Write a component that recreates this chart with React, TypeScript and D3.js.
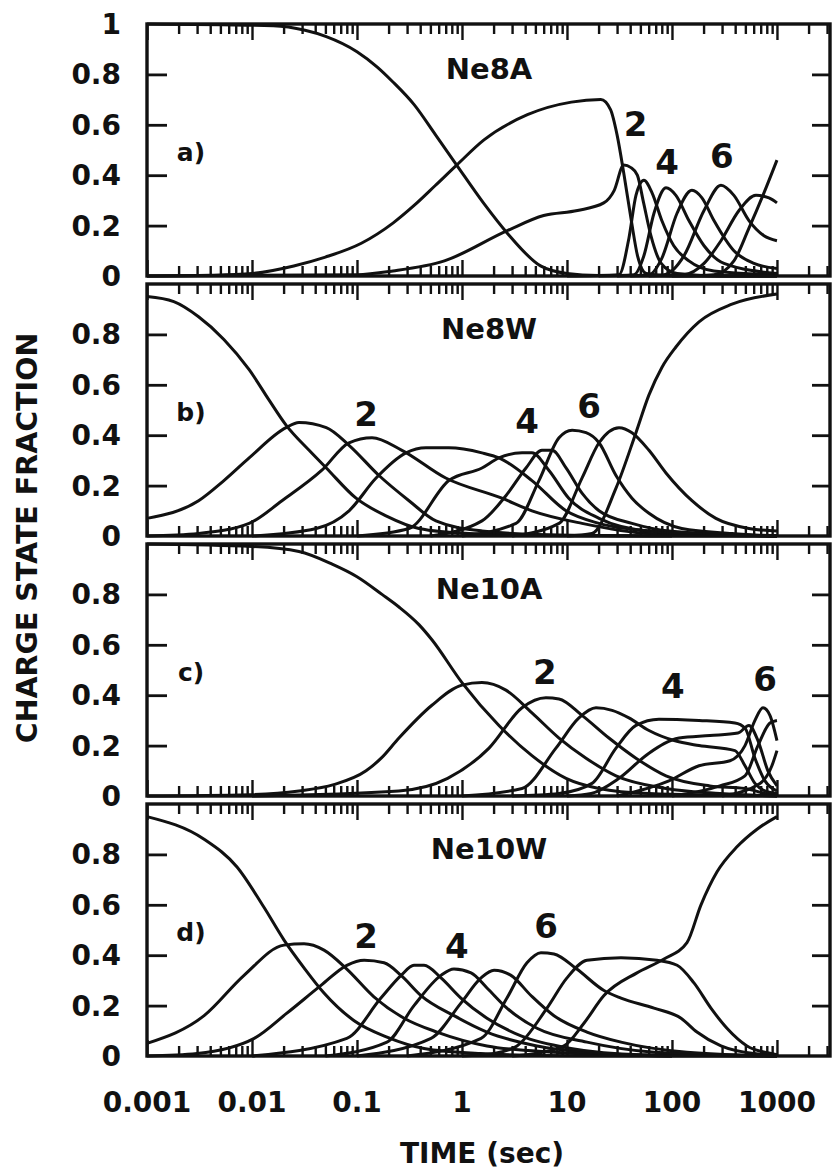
import { useEffect, useRef } from "react";
import * as d3 from "d3";

type Pt = [number, number]; // [time (sec), charge state fraction]
type Note = { text: string; t: number; v: number };

// panel text
const panelNames = ["Ne8A", "Ne8W", "Ne10A", "Ne10W"];
const panelLetters = ["a)", "b)", "c)", "d)"];

// axis ticks / labels
const xMajorTicks = [0.001, 0.01, 0.1, 1, 10, 100, 1000];
const xTickLabels = ["0.001", "0.01", "0.1", "1", "10", "100", "1000"];
const yTickMarks = [0.2, 0.4, 0.6, 0.8];
const yLabelValues = [1, 0.8, 0.6, 0.4, 0.2, 0];
const yLabelTexts = ["1", "0.8", "0.6", "0.4", "0.2", "0"];

// a) Ne8A
const ne8aCurves: Pt[][] = [
  [[0.001, 1.0], [0.016, 0.993], [0.032, 0.975], [0.051, 0.95], [0.1, 0.89], [0.155, 0.83], [0.22, 0.77], [0.35, 0.68], [0.56, 0.56], [0.89, 0.44], [1.6, 0.29], [2.7, 0.17], [5.6, 0.04], [10, 0.01], [20, 0.002], [1000, 0]],
  [[0.001, 0], [0.004, 0.003], [0.01, 0.01], [0.025, 0.04], [0.05, 0.075], [0.11, 0.13], [0.22, 0.21], [0.35, 0.28], [0.56, 0.36], [0.89, 0.44], [1.62, 0.54], [4.2, 0.64], [11, 0.69], [21, 0.7], [26, 0.66], [30, 0.56], [35, 0.4], [41, 0.22], [47, 0.08], [57, 0.01], [100, 0], [1000, 0]],
  [[0.001, 0], [0.1, 0.005], [0.22, 0.02], [0.68, 0.06], [2.7, 0.18], [6, 0.24], [12.6, 0.26], [22.4, 0.29], [28.2, 0.34], [34.7, 0.44], [40.7, 0.43], [46.8, 0.4], [53.7, 0.29], [63, 0.16], [79, 0.05], [112, 0.01], [316, 0], [1000, 0]],
  [[10, 0], [31.3, 0.005], [38.9, 0.15], [45.4, 0.32], [54, 0.38], [64.6, 0.33], [80, 0.22], [104, 0.12], [145, 0.06], [251, 0.02], [1000, 0.005]],
  [[20, 0], [43.5, 0.005], [54, 0.08], [67.5, 0.25], [87.7, 0.35], [109, 0.32], [145, 0.22], [202, 0.12], [313, 0.05], [1000, 0.01]],
  [[30, 0], [60.4, 0.005], [80, 0.07], [112, 0.25], [155, 0.34], [193, 0.31], [251, 0.22], [389, 0.1], [604, 0.05], [1000, 0.03]],
  [[40, 0], [84, 0.005], [130, 0.08], [202, 0.26], [293, 0.36], [389, 0.32], [541, 0.22], [752, 0.16], [1000, 0.14]],
  [[60, 0], [130, 0.005], [202, 0.05], [293, 0.14], [435, 0.26], [631, 0.32], [839, 0.31], [1000, 0.29]],
  [[100, 0], [251, 0.005], [389, 0.06], [541, 0.19], [752, 0.33], [1000, 0.46]],
];
const ne8aNotes: Note[] = [
  { text: "2", t: 45, v: 0.556 },
  { text: "4", t: 90, v: 0.405 },
  { text: "6", t: 299, v: 0.43 },
];

// b) Ne8W
const ne8wCurves: Pt[][] = [
  [[0.001, 0.95], [0.0018, 0.93], [0.0031, 0.87], [0.0054, 0.78], [0.0094, 0.66], [0.0145, 0.54], [0.0211, 0.44], [0.035, 0.34], [0.051, 0.27], [0.098, 0.15], [0.189, 0.08], [0.389, 0.03], [1.17, 0.01], [10, 0.001], [1000, 0]],
  [[0.001, 0.07], [0.0031, 0.14], [0.0054, 0.22], [0.0094, 0.31], [0.0211, 0.43], [0.028, 0.45], [0.051, 0.43], [0.084, 0.36], [0.162, 0.24], [0.313, 0.14], [0.565, 0.06], [1.55, 0.02], [6.74, 0.005], [100, 0]],
  [[0.001, 0], [0.0031, 0.01], [0.0094, 0.05], [0.0193, 0.14], [0.046, 0.26], [0.084, 0.37], [0.139, 0.39], [0.268, 0.34], [0.7, 0.23], [2.4, 0.15], [4.64, 0.1], [13.9, 0.05], [60.4, 0.01], [1000, 0]],
  [[0.01, 0], [0.041, 0.03], [0.084, 0.1], [0.152, 0.23], [0.293, 0.33], [0.454, 0.35], [0.75, 0.35], [1.55, 0.33], [2.25, 0.31], [4.64, 0.22], [9.8, 0.1], [20.2, 0.05], [60.4, 0.02], [1000, 0]],
  [[0.1, 0], [0.313, 0.03], [0.75, 0.22], [1.55, 0.27], [2.25, 0.31], [3.73, 0.33], [4.64, 0.33], [6.74, 0.26], [10.4, 0.15], [20.2, 0.07], [60.4, 0.02], [1000, 0]],
  [[0.5, 0], [1.55, 0.06], [2.62, 0.16], [4.07, 0.27], [5.78, 0.34], [7.2, 0.34], [9.8, 0.27], [13.9, 0.17], [20.2, 0.1], [41.6, 0.05], [93.6, 0.02], [1000, 0]],
  [[1, 0], [3.27, 0.05], [5.41, 0.22], [8.4, 0.39], [11.2, 0.42], [15.2, 0.41], [20.2, 0.37], [29.3, 0.24], [41.6, 0.15], [60.4, 0.09], [124, 0.03], [373, 0.01], [1000, 0]],
  [[3, 0], [8.4, 0.05], [13.9, 0.23], [20.2, 0.37], [31.3, 0.43], [41.6, 0.41], [60.4, 0.34], [87.7, 0.25], [155, 0.14], [262, 0.07], [541, 0.03], [1000, 0.02]],
  [[10, 0], [17.3, 0.01], [29.3, 0.19], [45.4, 0.41], [60.4, 0.56], [80.4, 0.67], [109, 0.75], [181, 0.85], [373, 0.92], [1000, 0.96]],
];
const ne8wNotes: Note[] = [
  { text: "2", t: 0.122, v: 0.437 },
  { text: "4", t: 4.16, v: 0.409 },
  { text: "6", t: 16.2, v: 0.468 },
];

// c) Ne10A
const ne10aCurves: Pt[][] = [
  [[0.001, 1.0], [0.01, 0.99], [0.028, 0.97], [0.058, 0.92], [0.1, 0.87], [0.173, 0.8], [0.251, 0.75], [0.389, 0.68], [0.517, 0.62], [1.0, 0.45], [2.25, 0.28], [4.64, 0.16], [9.8, 0.07], [20.2, 0.03], [60.4, 0.01], [1000, 0]],
  [[0.001, 0], [0.0094, 0.005], [0.028, 0.02], [0.06, 0.045], [0.122, 0.1], [0.17, 0.15], [0.251, 0.23], [0.517, 0.36], [1.0, 0.44], [1.55, 0.45], [2.62, 0.42], [4.64, 0.33], [8.4, 0.23], [15.2, 0.15], [29.3, 0.08], [87.7, 0.03], [286, 0.01], [1000, 0]],
  [[0.01, 0], [0.25, 0.02], [0.73, 0.07], [1.81, 0.19], [3.73, 0.35], [6.3, 0.39], [8.4, 0.385], [13.9, 0.32], [25.1, 0.23], [45.4, 0.15], [87.7, 0.08], [230, 0.04], [496, 0.03], [769, 0.01], [1000, 0]],
  [[1, 0], [3.73, 0.03], [7.85, 0.19], [13, 0.31], [18.9, 0.35], [26.9, 0.34], [38.9, 0.31], [60.4, 0.26], [105, 0.22], [181, 0.2], [398, 0.18], [496, 0.12], [617, 0.05], [769, 0.02], [1000, 0.01]],
  [[3, 0], [8.4, 0.01], [17.3, 0.05], [29.3, 0.19], [45.4, 0.28], [75.2, 0.305], [181, 0.3], [398, 0.29], [496, 0.27], [617, 0.15], [769, 0.06], [1000, 0.02]],
  [[10, 0], [17, 0.01], [31.3, 0.07], [60.4, 0.17], [117, 0.23], [230, 0.24], [425, 0.25], [541, 0.28], [659, 0.22], [820, 0.1], [1000, 0.04]],
  [[30, 0], [93.6, 0.06], [181, 0.12], [357, 0.14], [496, 0.2], [617, 0.3], [736, 0.35], [857, 0.32], [1000, 0.22]],
  [[100, 0], [286, 0.04], [496, 0.08], [659, 0.2], [857, 0.29], [1000, 0.3]],
  [[300, 0], [689, 0.05], [895, 0.12], [1000, 0.18]],
];
const ne10aNotes: Note[] = [
  { text: "2", t: 6.17, v: 0.444 },
  { text: "4", t: 102, v: 0.389 },
  { text: "6", t: 769, v: 0.417 },
];

// d) Ne10W
const ne10wCurves: Pt[][] = [
  [[0.001, 0.95], [0.0035, 0.86], [0.0072, 0.75], [0.013, 0.59], [0.0202, 0.46], [0.0313, 0.35], [0.0485, 0.25], [0.094, 0.14], [0.193, 0.075], [0.435, 0.03], [1.5, 0.01], [10, 0.001], [1000, 0]],
  [[0.001, 0.05], [0.0035, 0.16], [0.0084, 0.32], [0.0202, 0.44], [0.0313, 0.445], [0.0485, 0.42], [0.08, 0.345], [0.145, 0.235], [0.281, 0.15], [0.578, 0.095], [1.73, 0.04], [7.52, 0.015], [100, 0]],
  [[0.001, 0], [0.003, 0.01], [0.0105, 0.07], [0.0215, 0.17], [0.0454, 0.28], [0.08, 0.36], [0.117, 0.38], [0.181, 0.37], [0.263, 0.32], [0.407, 0.24], [0.839, 0.16], [1.73, 0.095], [5.18, 0.04], [15.5, 0.015], [100, 0]],
  [[0.01, 0], [0.08, 0.07], [0.169, 0.23], [0.263, 0.32], [0.349, 0.36], [0.435, 0.36], [0.631, 0.31], [0.977, 0.23], [1.73, 0.15], [3.65, 0.08], [10.9, 0.03], [50, 0.005], [1000, 0]],
  [[0.05, 0], [0.193, 0.055], [0.349, 0.2], [0.631, 0.32], [0.839, 0.345], [1.22, 0.33], [1.73, 0.27], [2.68, 0.19], [5.18, 0.11], [15.5, 0.055], [67.4, 0.015], [1000, 0]],
  [[0.1, 0], [0.507, 0.07], [0.977, 0.21], [1.52, 0.31], [2.02, 0.34], [2.93, 0.32], [4.54, 0.24], [7.52, 0.16], [15.5, 0.095], [32.7, 0.055], [139, 0.015], [1000, 0]],
  [[0.3, 0], [1.52, 0.07], [2.68, 0.23], [4.16, 0.37], [5.65, 0.41], [7.52, 0.405], [12.4, 0.345], [22.5, 0.26], [32.7, 0.23], [67.4, 0.19], [122, 0.15], [173, 0.095], [293, 0.04], [604, 0.01], [1000, 0.005]],
  [[1, 0], [2.02, 0.01], [3.34, 0.04], [6.45, 0.19], [10, 0.31], [15.5, 0.38], [32.7, 0.39], [72, 0.38], [112, 0.36], [162, 0.29], [235, 0.19], [334, 0.11], [518, 0.04], [877, 0.01], [1000, 0.005]],
  [[3, 0], [5, 0.01], [9.36, 0.04], [14.5, 0.13], [22.5, 0.24], [46.4, 0.33], [84, 0.385], [139, 0.45], [189, 0.6], [268, 0.73], [416, 0.83], [646, 0.9], [1000, 0.95]],
];
const ne10wNotes: Note[] = [
  { text: "2", t: 0.122, v: 0.429 },
  { text: "4", t: 0.895, v: 0.389 },
  { text: "6", t: 6.31, v: 0.468 },
];

const panels = [
  { name: panelNames[0], letter: panelLetters[0], curves: ne8aCurves, notes: ne8aNotes },
  { name: panelNames[1], letter: panelLetters[1], curves: ne8wCurves, notes: ne8wNotes },
  { name: panelNames[2], letter: panelLetters[2], curves: ne10aCurves, notes: ne10aNotes },
  { name: panelNames[3], letter: panelLetters[3], curves: ne10wCurves, notes: ne10wNotes },
];

const W = 836;
const H = 1172;
const X0 = 147;
const X1 = 830;
const TOP0 = 24;
const STEP = 260;
const PH = 252;
const FONT = "'DejaVu Sans', 'Liberation Sans', sans-serif";
const INK = "#111";

export default function App() {
  const ref = useRef<SVGSVGElement | null>(null);

  useEffect(() => {
    const svg = d3.select(ref.current);
    svg.selectAll("*").remove(); // cleanup

    const x = d3.scaleLog().domain([0.001, 3200]).range([X0, X1]);
    const minorTicks = xMajorTicks
      .flatMap((m) => d3.range(2, 10).map((k) => m * k))
      .filter((t) => t < 3200);

    const styleTicks = (sel: any, w = 2.4) => {
      sel.select(".domain").remove();
      sel.selectAll("line").attr("stroke", INK).attr("stroke-width", w);
    };

    panels.forEach((p, i) => {
      const top = TOP0 + i * STEP;
      const bottom = top + PH;
      const y = d3.scaleLinear().domain([0, 1]).range([bottom, top]);
      const g = svg.append("g");

      const line = d3
        .line<Pt>()
        .x((d) => x(d[0]))
        .y((d) => y(d[1]))
        .curve(d3.curveMonotoneX);

      g.append("g")
        .selectAll("path")
        .data(p.curves)
        .join("path")
        .attr("d", (d) => line(d))
        .attr("fill", "none")
        .attr("stroke", INK)
        .attr("stroke-width", 3)
        .attr("stroke-linejoin", "round");

      // inward ticks, top and bottom
      g.append("g")
        .attr("transform", `translate(0,${bottom})`)
        .call(d3.axisBottom(x).tickValues(xMajorTicks).tickSize(-16).tickFormat(() => ""))
        .call((s) => styleTicks(s));
      g.append("g")
        .attr("transform", `translate(0,${bottom})`)
        .call(d3.axisBottom(x).tickValues(minorTicks).tickSize(-10).tickFormat(() => ""))
        .call((s) => styleTicks(s));
      g.append("g")
        .attr("transform", `translate(0,${top})`)
        .call(d3.axisTop(x).tickValues(xMajorTicks).tickSize(-16).tickFormat(() => ""))
        .call((s) => styleTicks(s));
      g.append("g")
        .attr("transform", `translate(0,${top})`)
        .call(d3.axisTop(x).tickValues(minorTicks).tickSize(-10).tickFormat(() => ""))
        .call((s) => styleTicks(s));

      // y ticks, left and right
      g.append("g")
        .attr("transform", `translate(${X0},0)`)
        .call(d3.axisLeft(y).tickValues(yTickMarks).tickSize(-20).tickFormat(() => ""))
        .call((s) => styleTicks(s, 2.8));
      g.append("g")
        .attr("transform", `translate(${X1},0)`)
        .call(d3.axisRight(y).tickValues(yTickMarks).tickSize(-18).tickFormat(() => ""))
        .call((s) => styleTicks(s, 2.8));

      g.append("rect")
        .attr("x", X0)
        .attr("y", top)
        .attr("width", X1 - X0)
        .attr("height", PH)
        .attr("fill", "none")
        .attr("stroke", INK)
        .attr("stroke-width", 3.4);

      // y tick labels (no "1" below the first panel)
      yLabelValues.forEach((v, k) => {
        if (i > 0 && v === 1) return;
        g.append("text")
          .attr("x", 121)
          .attr("y", y(v))
          .attr("dy", "0.36em")
          .attr("text-anchor", "end")
          .attr("font-family", FONT)
          .attr("font-weight", "bold")
          .attr("font-size", 28)
          .attr("fill", INK)
          .text(yLabelTexts[k]);
      });

      g.append("text")
        .attr("x", 489)
        .attr("y", top + 55)
        .attr("text-anchor", "middle")
        .attr("font-family", FONT)
        .attr("font-weight", "bold")
        .attr("font-size", 29)
        .attr("fill", INK)
        .text(p.name);

      g.append("text")
        .attr("x", 191)
        .attr("y", top + 137)
        .attr("text-anchor", "middle")
        .attr("font-family", FONT)
        .attr("font-weight", "bold")
        .attr("font-size", 25)
        .attr("fill", INK)
        .text(p.letter);

      p.notes.forEach((n) => {
        g.append("text")
          .attr("x", x(n.t))
          .attr("y", y(n.v))
          .attr("text-anchor", "middle")
          .attr("font-family", FONT)
          .attr("font-weight", "bold")
          .attr("font-size", 34)
          .attr("fill", INK)
          .text(n.text);
      });
    });

    // bottom time labels
    const lastBottom = TOP0 + 3 * STEP + PH;
    xMajorTicks.forEach((t, k) => {
      svg
        .append("text")
        .attr("x", x(t))
        .attr("y", lastBottom + 56)
        .attr("text-anchor", "middle")
        .attr("font-family", FONT)
        .attr("font-weight", "bold")
        .attr("font-size", 28)
        .attr("fill", INK)
        .text(xTickLabels[k]);
    });

    svg
      .append("text")
      .attr("x", 482)
      .attr("y", 1163)
      .attr("text-anchor", "middle")
      .attr("font-family", FONT)
      .attr("font-weight", "bold")
      .attr("font-size", 28)
      .attr("fill", INK)
      .text("TIME (sec)");

    svg
      .append("text")
      .attr("transform", "translate(37,538) rotate(-90)")
      .attr("text-anchor", "middle")
      .attr("font-family", FONT)
      .attr("font-weight", "bold")
      .attr("font-size", 28.5)
      .attr("fill", INK)
      .text("CHARGE STATE FRACTION");
  }, []);

  return (
    <svg
      ref={ref}
      width={W}
      height={H}
      style={{ position: "absolute", left: 0, top: 0, background: "#fff" }}
    />
  );
}
